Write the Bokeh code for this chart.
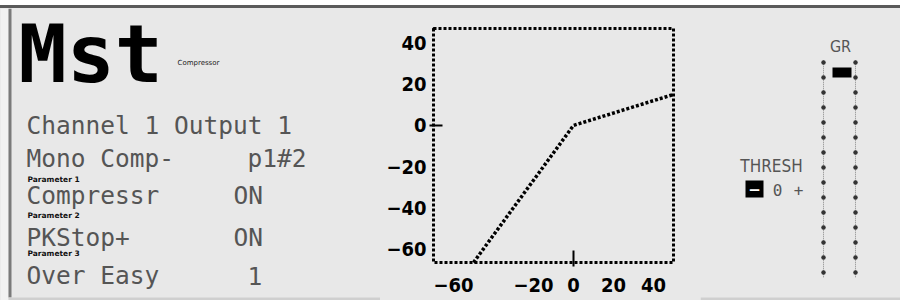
from bokeh.plotting import figure
from bokeh.layouts import row
from bokeh.models import Range1d, FixedTicker, LinearAxis
from bokeh.core.properties import value
from bokeh.embed import file_html
from bokeh.resources import INLINE

# ---------------- data ----------------
title_text = "Mst"
title_sub = "Compressor"
channel_text = "Channel 1 Output 1"
param_names = ["Mono Comp-", "Compressr", "PKStop+", "Over Easy"]
param_values = ["p1#2", "ON", "ON", "1"]
param_labels = ["Parameter 1", "Parameter 2", "Parameter 3"]

curve_in = [-50, 0, 50]        # input level (dB)
curve_out = [-66.5, 0, 15]     # output level (dB)
x_ticks = [-60, -20, 0, 20, 40]
y_ticks = [40, 20, 0, -20, -40, -60]
x_lim = (-70, 50)
y_lim = (-66.5, 47)

thresh_label = "THRESH"
thresh_value = "0"
gr_label = "GR"
meter_levels = [0, -2, -4, -6, -8, -10, -12, -14, -16, -18, -20, -22, -24, -26, -28]
gr_reading = -2.0

# ---------------- style ----------------
BG = "#e8e8e8"
FG = "#555555"
EDGE = "#f2f2f2"
TOPLINE = "#5a5a5a"
LCD_FONT = "DejaVu Sans Mono"
NUM_FONT = "DejaVu Sans Condensed"
TOP = 8          # page y where the figures start (below the css top border)
H = 300 - TOP
BL = 0.39        # baseline correction (fraction of font size)


def blank(w, xr, yr, **kw):
    f = figure(width=w, height=H, x_range=xr, y_range=yr, output_backend="svg",
               toolbar_location=None, min_border=0, x_axis_location=None,
               y_axis_location=None, background_fill_color=BG, border_fill_color=BG,
               outline_line_color=None, frame_align=False, title=None, **kw)
    f.grid.visible = False
    return f


def txt(f, x, y, text, size, **kw):
    f.text(x=x, y=[v - BL * size for v in y], text=text, text_font_size=f"{size}px",
           text_baseline="alphabetic", **kw)


# ---------------- left panel (page coordinates) ----------------
left = blank(380, Range1d(0, 380), Range1d(300, TOP))
left.quad(left=[0], right=[8], top=[TOP], bottom=[300], fill_color=EDGE, line_color=None)
left.quad(left=[8], right=[11], top=[TOP], bottom=[297], fill_color="#7a7a7a", line_color=None)
left.quad(left=[8], right=[380], top=[297], bottom=[300], fill_color="#cfcfcf", line_color=None)
txt(left, [18], [85], [title_text], 80, text_font=value(LCD_FONT),
    text_font_style="bold", text_color="black")
txt(left, [177], [65], [title_sub], 7, text_font=value("DejaVu Sans"), text_color="#222222")
txt(left, [26], [135], [channel_text], 24.5, text_font=value(LCD_FONT), text_color=FG)
row_base = [168, 205, 247, 285]
value_x = [247, 233, 233, 247]
txt(left, [26] * len(param_names), row_base, param_names, 24.5,
    text_font=value(LCD_FONT), text_color=FG)
txt(left, value_x, row_base, param_values, 24.5,
    text_font=value(LCD_FONT), text_color=FG)
txt(left, [27] * len(param_labels), [182, 218, 256], param_labels, 7.5,
    text_font=value("DejaVu Sans"), text_font_style="bold", text_color="#111111")

# ---------------- middle panel: compressor curve ----------------
PXX = 2.0                      # px per dB (x)
PXY = 234 / (y_lim[1] - y_lim[0])  # px per dB (y)
mid = figure(width=320, height=H, title=None,
             x_range=Range1d(x_lim[0] - 4 / PXX, x_lim[1] + 4 / PXX),
             y_range=Range1d(y_lim[0] - 4 / PXY, y_lim[1] + (28 - TOP) / PXY),
             output_backend="svg", toolbar_location=None, frame_align=False,
             min_border_left=49, min_border_right=23, min_border_top=0, min_border_bottom=34,
             background_fill_color=BG, border_fill_color=BG, outline_line_color=None)
mid.grid.visible = False

for ax, tin in ((mid.xaxis[0], 16), (mid.yaxis[0], 13)):
    ax.ticker = FixedTicker(ticks=[0])
    ax.major_tick_in = tin
    ax.major_tick_out = 0
    ax.major_tick_line_width = 2
    ax.major_tick_line_color = "black"
    ax.minor_tick_line_color = None
    ax.axis_line_color = None
    ax.major_label_overrides = {0: ""}
    ax.major_label_text_font_size = "1px"
    ax.major_label_standoff = 0

for ticks, side, stand in ((x_ticks, "below", 11), (y_ticks, "left", 3)):
    lab = LinearAxis(ticker=FixedTicker(ticks=ticks), major_tick_in=0, major_tick_out=0,
                     major_tick_line_color=None, minor_tick_line_color=None,
                     axis_line_color=None, major_label_standoff=stand,
                     major_label_text_font=NUM_FONT, major_label_text_font_style="bold",
                     major_label_text_font_size="20px", major_label_text_color="black")
    mid.add_layout(lab, side)

mid.quad(left=[x_lim[0]], right=[x_lim[1]], bottom=[y_lim[0]], top=[y_lim[1]],
         fill_color=None, line_color="black", line_width=3, line_dash="3 2")
mid.line(curve_in, curve_out, line_color="black", line_width=3.5, line_dash="3 2")

# ---------------- right panel: threshold & GR meter ----------------
right = blank(200, Range1d(700, 900), Range1d(300, TOP),
              extra_y_ranges={"meter": Range1d(-31.73, 8.27 - TOP / 7.5)})
right.quad(left=[700], right=[900], top=[297], bottom=[300], fill_color="#cfcfcf", line_color=None)
txt(right, [771], [172], [thresh_label], 17, text_font=value(NUM_FONT),
    text_color=FG, text_align="center")
right.rect(x=[754], y=[188.5], width=18, height=17, fill_color="black", line_color=None)
txt(right, [754], [194], ["\u2212"], 15, text_font=value("DejaVu Sans"),
    text_font_style="bold", text_color="white", text_align="center")
txt(right, [777], [196], [thresh_value], 16, text_font=value(LCD_FONT),
    text_color=FG, text_align="center")
txt(right, [798], [196], ["+"], 16, text_font=value(LCD_FONT),
    text_color=FG, text_align="center")
txt(right, [840], [52], [gr_label], 16, text_font=value(NUM_FONT),
    text_color=FG, text_align="center")
for mx in (823, 855):
    right.segment(x0=[mx], y0=[meter_levels[0] + 0.3], x1=[mx], y1=[meter_levels[-1] - 0.7],
                  y_range_name="meter", line_color="#888888", line_width=1, line_dash="1 1")
    right.scatter(x=[mx] * len(meter_levels), y=meter_levels, y_range_name="meter",
                  marker="circle", size=4.5, fill_color="#333333", line_color=None)
right.quad(left=[832], right=[851], top=[gr_reading + 1.33], bottom=[gr_reading],
           y_range_name="meter", fill_color="black", line_color=None)

layout = row(left, mid, right,
             styles={"background-color": BG, "margin-top": "5px",
                     "border-top": f"3px solid {TOPLINE}"})
open("out.html", "w").write(file_html(layout, INLINE))
